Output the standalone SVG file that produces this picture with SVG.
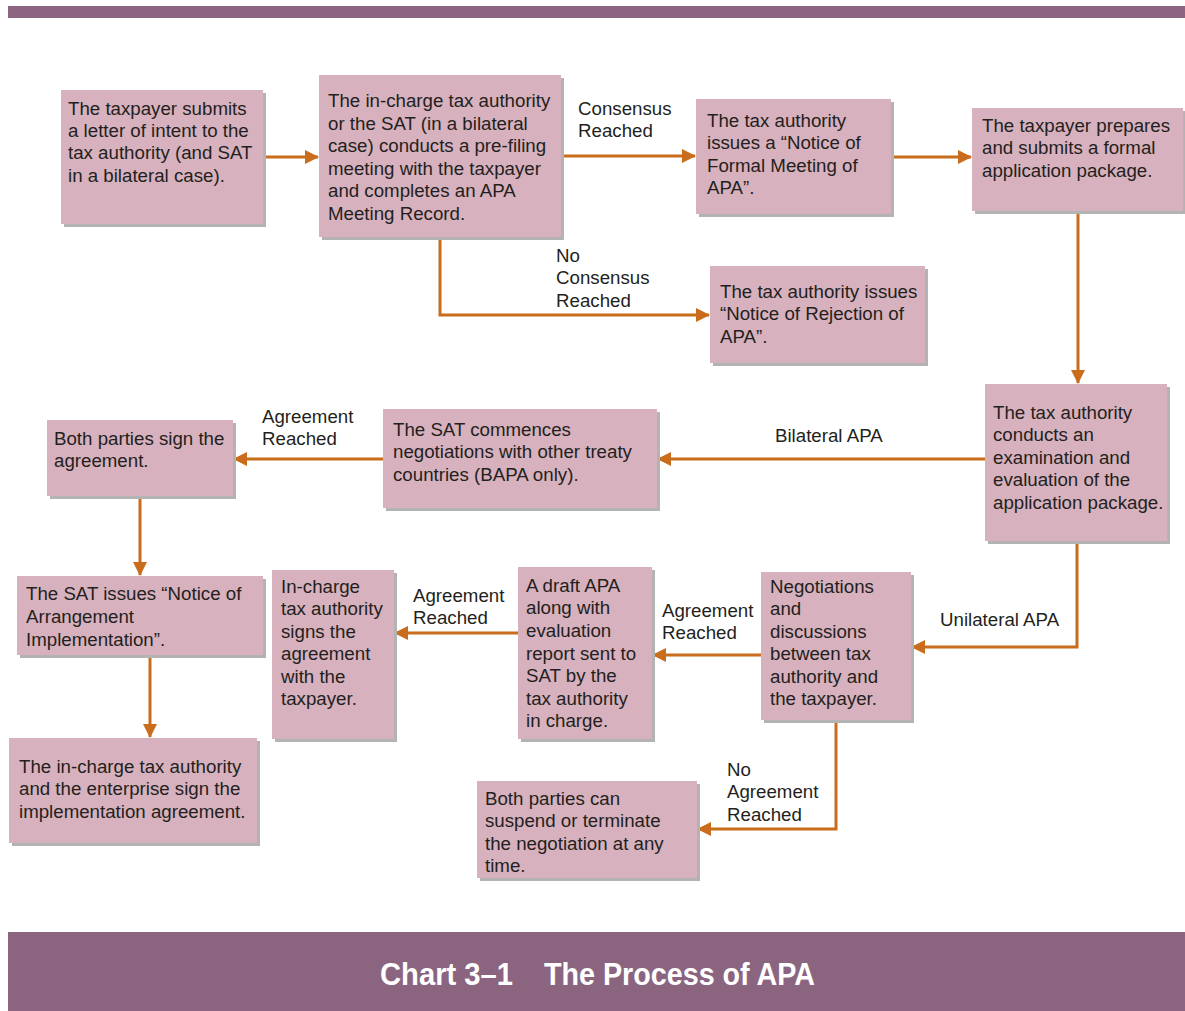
<svg xmlns="http://www.w3.org/2000/svg" width="1185" height="1011" viewBox="0 0 1185 1011">
<defs>
<style>
.box{fill:#d7b1bd}
.sh{fill:#b3b3b3}
.t{font-family:"Liberation Sans",Arial,sans-serif;font-size:18.7px;fill:#231f20}
.c{fill:none;stroke:#c96d1c;stroke-width:3}
.title{font-family:"Liberation Sans Narrow","Liberation Sans",Arial,sans-serif;font-size:31px;font-weight:bold;fill:#ffffff}
</style>
<marker id="ah" viewBox="0 0 14 14" refX="13" refY="7" markerWidth="14" markerHeight="14" markerUnits="userSpaceOnUse" orient="auto">
<path d="M0,0 L14,7 L0,14 Z" fill="#c96d1c"/>
</marker>
</defs>
<rect x="0" y="0" width="1185" height="1011" fill="#ffffff"/>
<rect x="8" y="6" width="1177" height="12" fill="#8b6580"/>
<rect x="8" y="932" width="1177" height="79" fill="#8b6580"/>
<text class="title" x="380" y="985" textLength="133" lengthAdjust="spacingAndGlyphs">Chart 3–1</text>
<text class="title" x="544" y="985" textLength="271" lengthAdjust="spacingAndGlyphs">The Process of APA</text>

<g id="connectors">
<path class="c" d="M263,157 H318" marker-end="url(#ah)"/>
<path class="c" d="M561,156 H695" marker-end="url(#ah)"/>
<path class="c" d="M440,237 V315 H709" marker-end="url(#ah)"/>
<path class="c" d="M891,157 H971" marker-end="url(#ah)"/>
<path class="c" d="M1078,211 V383" marker-end="url(#ah)"/>
<path class="c" d="M985,459 H658" marker-end="url(#ah)"/>
<path class="c" d="M383,459 H234" marker-end="url(#ah)"/>
<path class="c" d="M140,496 V575" marker-end="url(#ah)"/>
<path class="c" d="M150,655 V737" marker-end="url(#ah)"/>
<path class="c" d="M1077,541 V647 H912" marker-end="url(#ah)"/>
<path class="c" d="M761,655 H653" marker-end="url(#ah)"/>
<path class="c" d="M518,633 H395" marker-end="url(#ah)"/>
<path class="c" d="M836,720 V829 H698" marker-end="url(#ah)"/>
<text class="t"><tspan x="578" y="115">Consensus</tspan><tspan x="578" y="137">Reached</tspan></text>
<text class="t"><tspan x="556" y="262">No</tspan><tspan x="556" y="284">Consensus</tspan><tspan x="556" y="307">Reached</tspan></text>
<text class="t" x="775" y="442">Bilateral APA</text>
<text class="t"><tspan x="262" y="423">Agreement</tspan><tspan x="262" y="445">Reached</tspan></text>
<text class="t" x="940" y="626">Unilateral APA</text>
<text class="t"><tspan x="662" y="617">Agreement</tspan><tspan x="662" y="639">Reached</tspan></text>
<text class="t"><tspan x="413" y="602">Agreement</tspan><tspan x="413" y="624">Reached</tspan></text>
<text class="t"><tspan x="727" y="776">No</tspan><tspan x="727" y="798">Agreement</tspan><tspan x="727" y="821">Reached</tspan></text>
</g>

<g id="n1">
<rect class="sh" x="64" y="93" width="202" height="134"/>
<rect class="box" x="61" y="90" width="202" height="134"/>
<text class="t"><tspan x="68" y="115">The taxpayer submits</tspan><tspan x="68" y="137">a letter of intent to the</tspan><tspan x="68" y="159">tax authority (and SAT</tspan><tspan x="68" y="182">in a bilateral case).</tspan></text>
</g>
<g id="n2">
<rect class="sh" x="322" y="78" width="242" height="162"/>
<rect class="box" x="319" y="75" width="242" height="162"/>
<text class="t"><tspan x="328" y="107">The in-charge tax authority</tspan><tspan x="328" y="130">or the SAT (in a bilateral</tspan><tspan x="328" y="152">case) conducts a pre-filing</tspan><tspan x="328" y="175">meeting with the taxpayer</tspan><tspan x="328" y="197">and completes an APA</tspan><tspan x="328" y="220">Meeting Record.</tspan></text>
</g>
<g id="n3">
<rect class="sh" x="699" y="102" width="195" height="115"/>
<rect class="box" x="696" y="99" width="195" height="115"/>
<text class="t"><tspan x="707" y="127">The tax authority</tspan><tspan x="707" y="149">issues a “Notice of</tspan><tspan x="707" y="172">Formal Meeting of</tspan><tspan x="707" y="194">APA”.</tspan></text>
</g>
<g id="n4">
<rect class="sh" x="975" y="111" width="210" height="103"/>
<rect class="box" x="972" y="108" width="211" height="103"/>
<text class="t"><tspan x="982" y="132">The taxpayer prepares</tspan><tspan x="982" y="154">and submits a formal</tspan><tspan x="982" y="177">application package.</tspan></text>
</g>
<g id="n5">
<rect class="sh" x="713" y="269" width="215" height="97"/>
<rect class="box" x="710" y="266" width="215" height="97"/>
<text class="t"><tspan x="720" y="298">The tax authority issues</tspan><tspan x="720" y="320">“Notice of Rejection of</tspan><tspan x="720" y="343">APA”.</tspan></text>
</g>
<g id="n6">
<rect class="sh" x="988" y="387" width="182" height="157"/>
<rect class="box" x="985" y="384" width="182" height="157"/>
<text class="t"><tspan x="993" y="419">The tax authority</tspan><tspan x="993" y="441">conducts an</tspan><tspan x="993" y="464">examination and</tspan><tspan x="993" y="486">evaluation of the</tspan><tspan x="993" y="509">application package.</tspan></text>
</g>
<g id="n7">
<rect class="sh" x="386" y="412" width="274" height="99"/>
<rect class="box" x="383" y="409" width="274" height="99"/>
<text class="t"><tspan x="393" y="436">The SAT commences</tspan><tspan x="393" y="458">negotiations with other treaty</tspan><tspan x="393" y="481">countries (BAPA only).</tspan></text>
</g>
<g id="n8">
<rect class="sh" x="50" y="423" width="186" height="76"/>
<rect class="box" x="47" y="420" width="186" height="76"/>
<text class="t"><tspan x="54" y="445">Both parties sign the</tspan><tspan x="54" y="467">agreement.</tspan></text>
</g>
<g id="n9">
<rect class="sh" x="20" y="579" width="246" height="79"/>
<rect class="box" x="17" y="576" width="246" height="79"/>
<text class="t"><tspan x="26" y="600">The SAT issues “Notice of</tspan><tspan x="26" y="623">Arrangement</tspan><tspan x="26" y="646">Implementation”.</tspan></text>
</g>
<g id="n10">
<rect class="sh" x="12" y="741" width="248" height="105"/>
<rect class="box" x="9" y="738" width="248" height="105"/>
<text class="t"><tspan x="19" y="773">The in-charge tax authority</tspan><tspan x="19" y="795">and the enterprise sign the</tspan><tspan x="19" y="818">implementation agreement.</tspan></text>
</g>
<g id="n11">
<rect class="sh" x="275" y="573" width="122" height="169"/>
<rect class="box" x="272" y="570" width="122" height="169"/>
<text class="t"><tspan x="281" y="593">In-charge</tspan><tspan x="281" y="615">tax authority</tspan><tspan x="281" y="638">signs the</tspan><tspan x="281" y="660">agreement</tspan><tspan x="281" y="683">with the</tspan><tspan x="281" y="705">taxpayer.</tspan></text>
</g>
<g id="n12">
<rect class="sh" x="521" y="570" width="134" height="172"/>
<rect class="box" x="518" y="567" width="134" height="172"/>
<text class="t"><tspan x="526" y="592">A draft APA</tspan><tspan x="526" y="614">along with</tspan><tspan x="526" y="637">evaluation</tspan><tspan x="526" y="660">report sent to</tspan><tspan x="526" y="682">SAT by the</tspan><tspan x="526" y="705">tax authority</tspan><tspan x="526" y="727">in charge.</tspan></text>
</g>
<g id="n13">
<rect class="sh" x="764" y="575" width="150" height="148"/>
<rect class="box" x="761" y="572" width="150" height="148"/>
<text class="t"><tspan x="770" y="593">Negotiations</tspan><tspan x="770" y="615">and</tspan><tspan x="770" y="638">discussions</tspan><tspan x="770" y="660">between tax</tspan><tspan x="770" y="683">authority and</tspan><tspan x="770" y="705">the taxpayer.</tspan></text>
</g>
<g id="n14">
<rect class="sh" x="480" y="784" width="220" height="97"/>
<rect class="box" x="477" y="781" width="220" height="97"/>
<text class="t"><tspan x="485" y="805">Both parties can</tspan><tspan x="485" y="827">suspend or terminate</tspan><tspan x="485" y="850">the negotiation at any</tspan><tspan x="485" y="872">time.</tspan></text>
</g>
</svg>
